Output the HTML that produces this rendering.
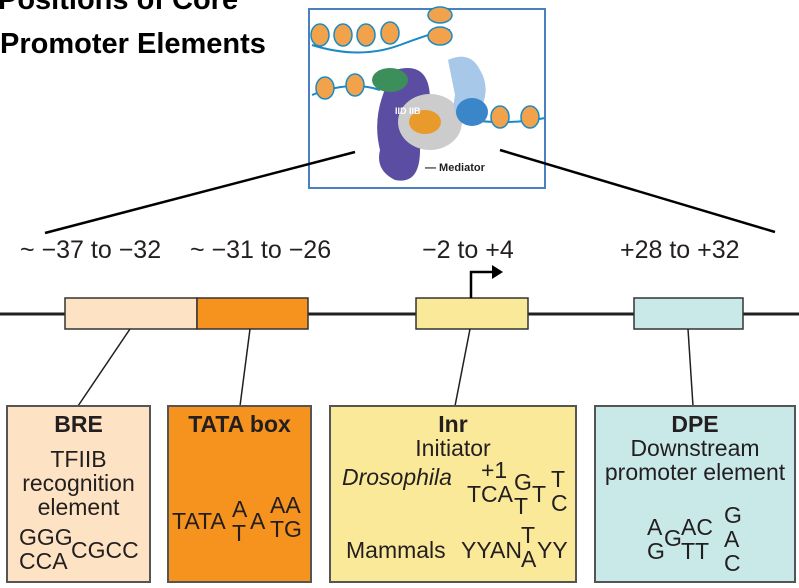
<html><head><style>
body{margin:0;width:799px;height:588px;background:#fff;position:relative;overflow:hidden;font-family:"Liberation Sans",sans-serif;color:#231f20}
.a{position:absolute;white-space:nowrap;line-height:26px}
.t{font-weight:bold;font-size:29px;color:#000;line-height:32px}
.lbl{font-size:25px;top:237px}
.bx{position:absolute;border:2px solid #555;box-sizing:border-box;top:405px;height:178px}
.c{text-align:center;font-size:23px;line-height:24px}
.s{font-size:23px}
.m{line-height:24px}
</style></head><body>
<div class="a t" style="left:-2px;top:-16px">Positions of Core</div>
<div class="a t" style="left:0;top:28px">Promoter Elements</div>
<svg class="a" style="left:0;top:0" width="799" height="588">
<rect x="309" y="9" width="236" height="179" fill="#fff" stroke="#4a7fc1" stroke-width="2"/>
<path d="M312 45 Q360 60 400 45 T450 30 M312 95 Q350 80 380 90 M470 120 Q510 125 545 118" stroke="#1b8ac4" stroke-width="2" fill="none"/>
<g fill="#f2a24a" stroke="#1b8ac4" stroke-width="1.5">
<ellipse cx="320" cy="35" rx="9" ry="11"/><ellipse cx="343" cy="35" rx="9" ry="11"/><ellipse cx="366" cy="35" rx="9" ry="11"/><ellipse cx="390" cy="33" rx="9" ry="11"/>
<ellipse cx="440" cy="15" rx="12" ry="8"/><ellipse cx="440" cy="36" rx="12" ry="9"/>
<ellipse cx="325" cy="88" rx="9" ry="11"/><ellipse cx="355" cy="85" rx="9" ry="11"/>
<ellipse cx="500" cy="117" rx="9" ry="11"/><ellipse cx="530" cy="117" rx="9" ry="11"/></g>
<path d="M395 70 Q430 60 430 100 L420 150 Q420 185 395 180 Q375 170 380 150 Q370 110 395 70Z" fill="#5b4ea2"/>
<ellipse cx="430" cy="122" rx="32" ry="28" fill="#ccc"/>
<ellipse cx="390" cy="80" rx="18" ry="12" fill="#3c8f5a"/>
<path d="M448 60 Q470 50 480 70 Q495 95 470 125 Q450 120 455 95Z" fill="#a8c8ea"/>
<ellipse cx="472" cy="112" rx="16" ry="14" fill="#3a86c8"/>
<ellipse cx="425" cy="122" rx="16" ry="12" fill="#e89a2a"/>
<line x1="355" y1="152" x2="45" y2="233" stroke="#000" stroke-width="2.5"/>
<line x1="500" y1="150" x2="775" y2="232" stroke="#000" stroke-width="2.5"/>
<line x1="0" y1="314" x2="799" y2="314" stroke="#231f20" stroke-width="3"/>
<rect x="65" y="298" width="132" height="31" fill="#fde3c4" stroke="#333" stroke-width="1.5"/>
<rect x="197" y="298" width="111" height="31" fill="#f6921e" stroke="#333" stroke-width="1.5"/>
<rect x="416" y="298" width="112" height="31" fill="#fbe99a" stroke="#333" stroke-width="1.5"/>
<rect x="634" y="298" width="109" height="31" fill="#c9e9e8" stroke="#333" stroke-width="1.5"/>
<path d="M471 298 V272 H494" stroke="#000" stroke-width="2.5" fill="none"/>
<path d="M503 272 L492 265 L492 279Z" fill="#000"/>
<g stroke="#231f20" stroke-width="1.5">
<line x1="130" y1="329" x2="78" y2="406"/><line x1="250" y1="329" x2="240" y2="406"/>
<line x1="470" y1="329" x2="455" y2="406"/><line x1="688" y1="329" x2="693" y2="406"/></g>
</svg>
<div class="a" style="left:395px;top:98px;font-size:9px;font-weight:bold;color:#fff">IID IIB</div>
<div class="a" style="left:425px;top:155px;font-size:11px;font-weight:bold">— Mediator</div>
<div class="a lbl" style="left:20px">~ −37 to −32</div>
<div class="a lbl" style="left:190px">~ −31 to −26</div>
<div class="a lbl" style="left:422px">−2 to +4</div>
<div class="a lbl" style="left:620px">+28 to +32</div>
<div class="bx" style="left:6px;width:145px;background:#fde3c4"></div>
<div class="bx" style="left:167px;width:145px;background:#f6921e"></div>
<div class="bx" style="left:329px;width:248px;background:#fbe99a"></div>
<div class="bx" style="left:594px;width:202px;background:#c9e9e8"></div>
<div class="a c" style="left:6px;width:145px;top:412px"><b>BRE</b></div>
<div class="a c" style="left:6px;width:145px;top:447px">TFIIB<br>recognition<br>element</div>
<div class="a s m" style="left:19px;top:525px">GGG<br>CCA</div>
<div class="a s" style="left:71px;top:537px">CGCC</div>
<div class="a c" style="left:167px;width:145px;top:412px"><b>TATA box</b></div>
<div class="a s" style="left:172px;top:508px">TATA</div>
<div class="a s m" style="left:232px;top:497px">A<br>T</div>
<div class="a s" style="left:250px;top:508px">A</div>
<div class="a s m" style="left:270px;top:493px">AA<br>TG</div>
<div class="a c" style="left:329px;width:248px;top:412px"><b>Inr</b><br>Initiator</div>
<div class="a s" style="left:342px;top:464px"><i>Drosophila</i></div>
<div class="a s" style="left:481px;top:457px">+1</div>
<div class="a s" style="left:467px;top:481px">TCA</div>
<div class="a s m" style="left:514px;top:470px">G<br>T</div>
<div class="a s" style="left:532px;top:481px">T</div>
<div class="a s m" style="left:551px;top:467px">T<br>C</div>
<div class="a s" style="left:346px;top:537px">Mammals</div>
<div class="a s" style="left:461px;top:537px">YYAN</div>
<div class="a s m" style="left:521px;top:523px">T<br>A</div>
<div class="a s" style="left:537px;top:537px">YY</div>
<div class="a c" style="left:594px;width:202px;top:412px"><b>DPE</b><br>Downstream<br>promoter element</div>
<div class="a s m" style="left:647px;top:515px">A<br>G</div>
<div class="a s" style="left:664px;top:525px">G</div>
<div class="a s m" style="left:681px;top:515px">AC<br>TT</div>
<div class="a s m" style="left:724px;top:503px">G<br>A<br>C</div>
</body></html>
